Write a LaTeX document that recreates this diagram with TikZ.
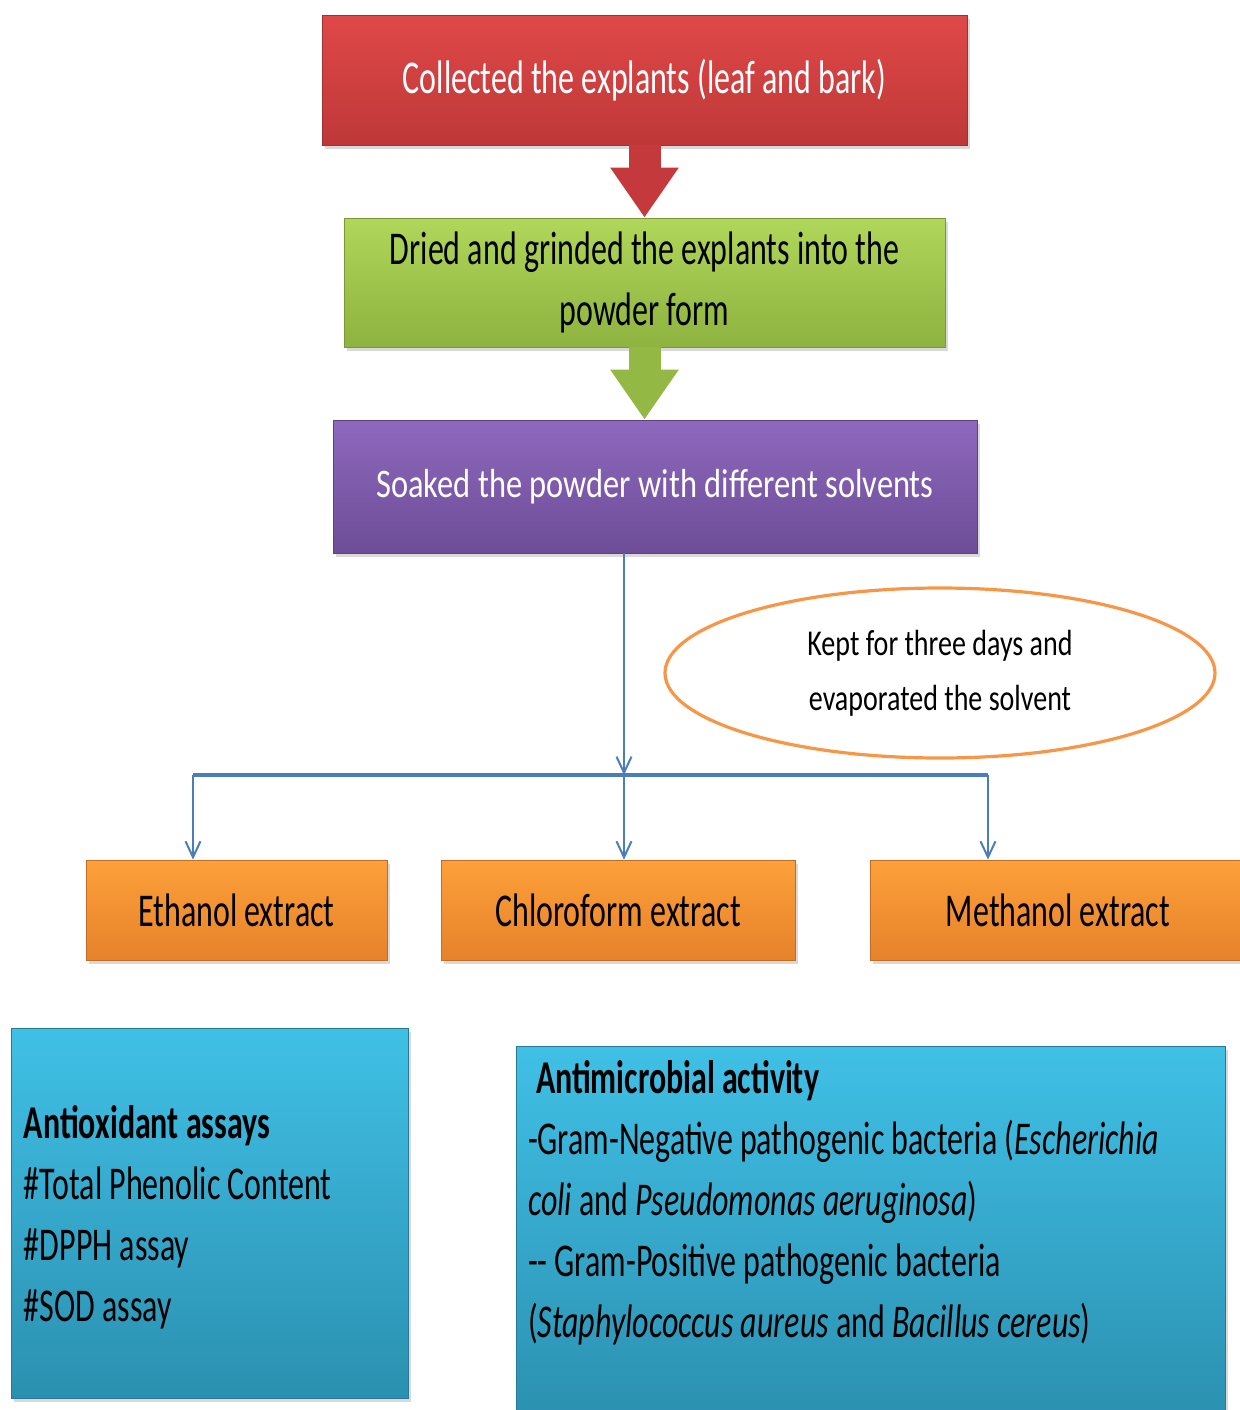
\documentclass[tikz,border=0pt]{standalone}
\usepackage{fontspec}
\setmainfont{Carlito}[FakeStretch=0.68]
\newfontfamily\soakfont{Carlito}[FakeStretch=0.80]
\newfontfamily\notefont{Carlito}[FakeStretch=0.77]
\usetikzlibrary{shapes.geometric, arrows.meta, shadows}

\definecolor{redtop}{HTML}{E04848}
\definecolor{redbot}{HTML}{BE3838}
\definecolor{redarrow}{HTML}{C43A3C}
\definecolor{greentop}{HTML}{B0D65A}
\definecolor{greenbot}{HTML}{8EB33F}
\definecolor{greenarrow}{HTML}{93B844}
\definecolor{purpletop}{HTML}{8E68BD}
\definecolor{purplebot}{HTML}{6D4D97}
\definecolor{orangetop}{HTML}{FDA03A}
\definecolor{orangebot}{HTML}{E6822A}
\definecolor{cyantop}{HTML}{40C0E6}
\definecolor{cyanbot}{HTML}{2B90B0}
\definecolor{flowblue}{HTML}{4A7EBB}
\definecolor{ovalline}{HTML}{F79646}

\begin{document}
\begin{tikzpicture}[x=0.5pt, y=-0.5pt,
    txt/.style={font=\fontsize{23.5}{30.5}\selectfont},
    box/.style={rectangle, inner sep=0pt, align=center, txt,
        drop shadow={opacity=0.3, shadow xshift=1.5pt, shadow yshift=-2pt}},
    blockarrow/.style={line width=16pt, -{Triangle[length=25pt, width=32.5pt]}},
    flow/.style={flowblue, line width=1pt, -{Straight Barb[length=8pt, width=7.5pt]}},
    bus/.style={flowblue, line width=1.7pt}]
    \useasboundingbox (0,0) rectangle (1239,1410);

    % steps
    \node[box, top color=redtop, bottom color=redbot, draw=redbot!85!black, text=white,
        minimum width=322.5pt, minimum height=65pt] (collect) at (644.5,80)
        {Collected the explants (leaf and bark)};
    \node[box, top color=greentop, bottom color=greenbot, draw=greenbot!85!black,
        minimum width=300.5pt, minimum height=64.5pt] (dry) at (644.5,282.5)
        {Dried and grinded the explants into the\\powder form};
    \node[box, top color=purpletop, bottom color=purplebot, draw=purplebot!85!black, text=white,
        font=\soakfont\fontsize{20.3}{26}\selectfont,
        minimum width=322pt, minimum height=66.5pt] (soak) at (655,486.5)
        {Soaked the powder with different solvents};

    \draw[blockarrow, redarrow] (collect) -- (dry);
    \draw[blockarrow, greenarrow] (dry.south) -- (dry.south |- soak.north);

    % note
    \node[ellipse, draw=ovalline, line width=1.6pt, inner sep=0pt, align=center,
        font=\notefont\fontsize{18.2}{27.5}\selectfont,
        minimum width=275pt, minimum height=85pt] (kept) at (940,673)
        {Kept for three days and\\evaporated the solvent};

    % extracts
    \node[box, top color=orangetop, bottom color=orangebot, draw=orangebot!85!black,
        minimum width=150.5pt, minimum height=50pt] (eth) at (236.5,910) {Ethanol extract};
    \node[box, top color=orangetop, bottom color=orangebot, draw=orangebot!85!black,
        minimum width=177pt, minimum height=50pt] (chl) at (618,910) {Chloroform extract};
    \node[box, top color=orangetop, bottom color=orangebot, draw=orangebot!85!black,
        minimum width=188pt, minimum height=50pt] (meth) at (1058,910) {Methanol extract};

    \coordinate (split) at (624,775);
    \coordinate (busl) at (193,775);
    \coordinate (busr) at (988,775);
    \draw[flow] (split |- soak.south) -- (split);
    \draw[bus] (busl) -- (busr);
    \draw[flow] (busl) -- (busl |- eth.north);
    \draw[flow] (split) -- (split |- chl.north);
    \draw[flow] (busr) -- (busr |- meth.north);

    % assays
    \node[box, top color=cyantop, bottom color=cyanbot, draw=cyanbot!85!black,
        minimum width=198.5pt, minimum height=185pt] (anti) at (209.5,1213) {};
    \node[txt, align=left, inner sep=0pt, anchor=north west] (antitxt)
        at ([shift={(6.5pt,-38.5pt)}]anti.north west)
        {\textbf{Antioxidant assays}\\\#Total Phenolic Content\\\#DPPH assay\\\#SOD assay};
    \node[box, top color=cyantop, bottom color=cyanbot, draw=cyanbot!85!black,
        minimum width=354.5pt, minimum height=187pt] (micro) at (870.5,1233) {};
    \node[txt, align=left, inner sep=0pt, anchor=north west] (microtxt)
        at ([shift={(6pt,-7pt)}]micro.north west)
        {\hspace*{4pt}\textbf{Antimicrobial activity}\\
         -Gram-Negative pathogenic bacteria (\textit{Escherichia}\\
         \textit{coli} and \textit{Pseudomonas aeruginosa})\\
         -{}- Gram-Positive pathogenic bacteria\\
         (\textit{Staphylococcus aureus} and \textit{Bacillus cereus})};
\end{tikzpicture}
\end{document}
